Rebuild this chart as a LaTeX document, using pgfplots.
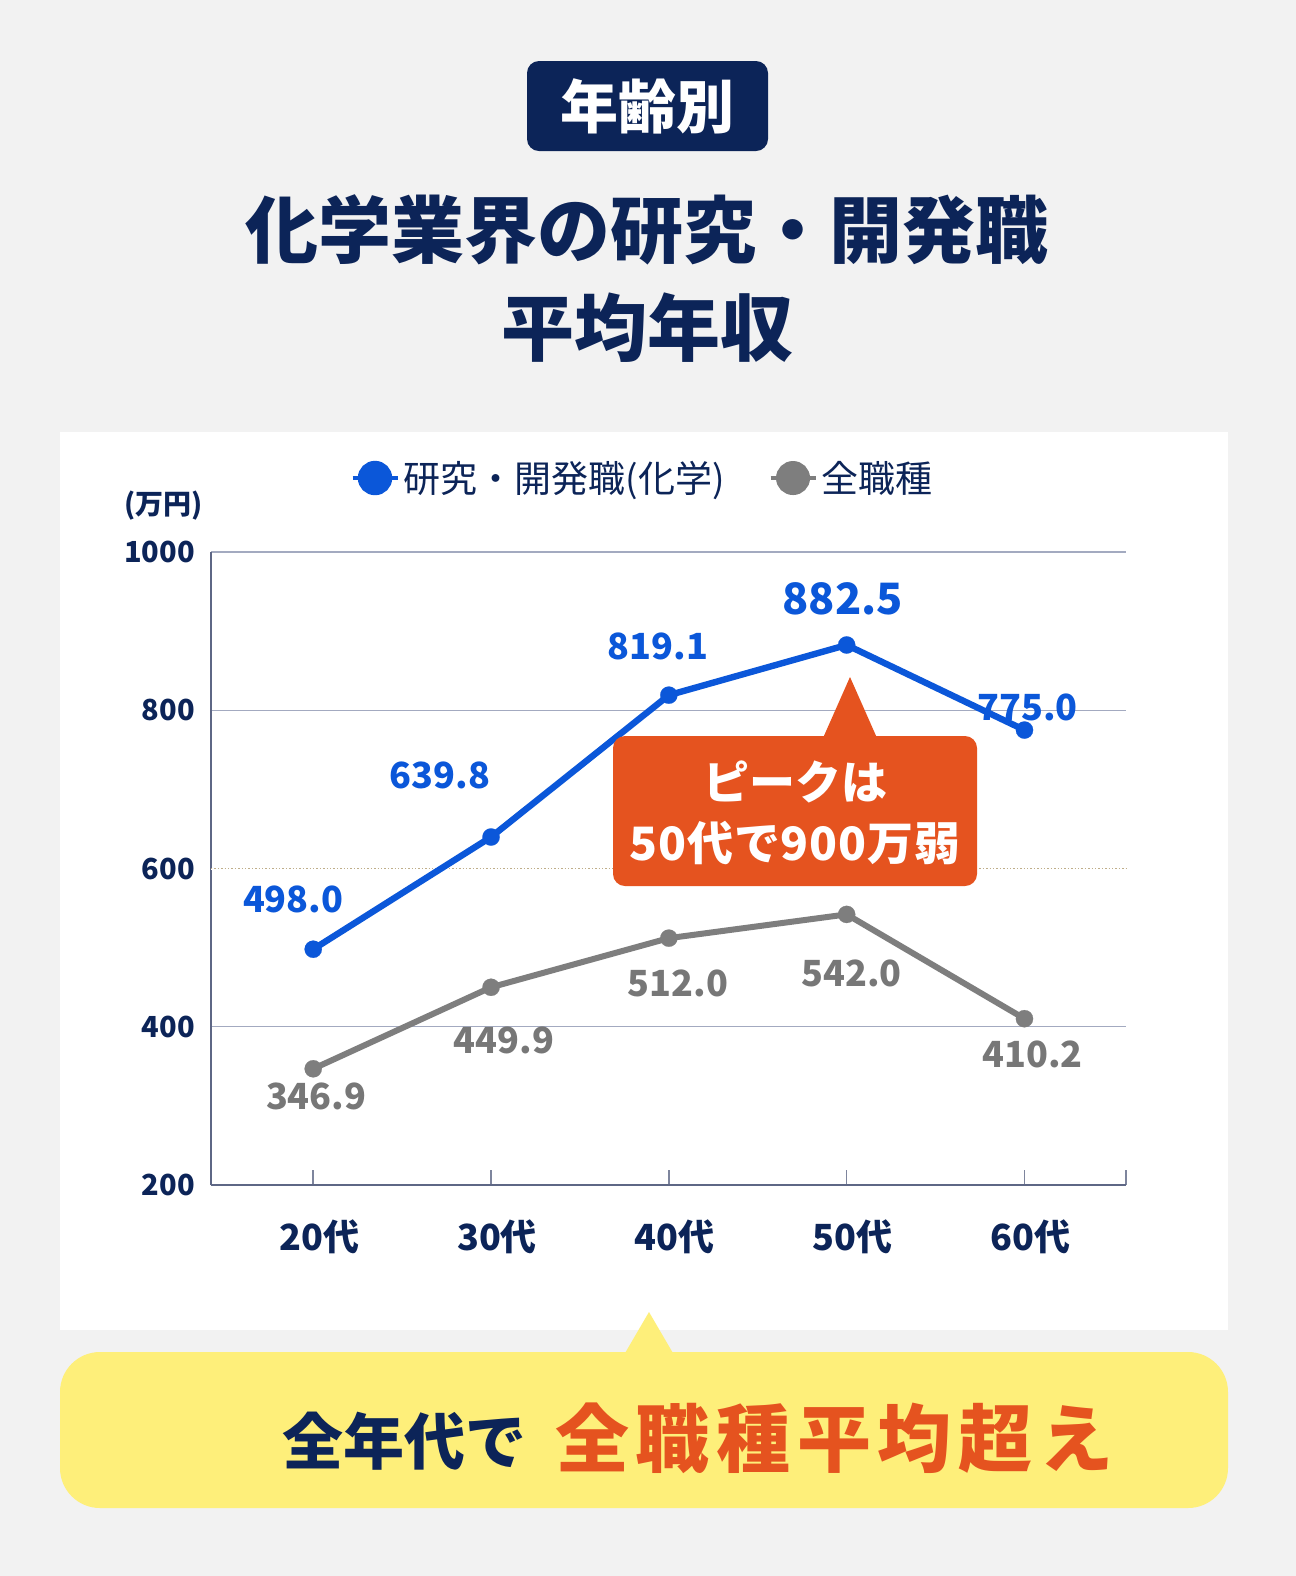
\documentclass[border=0pt]{standalone}
\usepackage{fontspec}
\usepackage{pgfplots}
\usepackage{pgfplotstable}
\pgfplotsset{compat=1.18}
\setmainfont{Noto Sans CJK JP}
\newcommand{\fsz}[1]{\fontsize{#1}{#1}\selectfont}

\definecolor{bgc}{HTML}{F2F2F2}
\definecolor{navy}{HTML}{0C2458}
\definecolor{lineblue}{HTML}{0B57D9}
\definecolor{linegray}{HTML}{7E7E7E}
\definecolor{labgray}{HTML}{777777}
\definecolor{callout}{HTML}{E5531F}
\definecolor{hilite}{HTML}{FEEF7A}
\definecolor{axisc}{HTML}{5E6785}
\definecolor{gridc}{HTML}{A3AAC0}
\definecolor{tanc}{HTML}{BFAE8A}

% label offsets (ox, oy in pt) and label scale per point
\pgfplotstableread{
x y lab ox oy sc
0 498.0 498.0 -10 25 1
1 639.8 639.8 -25.5 31 1
2 819.1 819.1 -5.5 24.5 1
3 882.5 882.5 -2 23 1.2
4 775.0 775.0 1.5 11.5 1
}\chem
\pgfplotstableread{
x y lab ox oy sc
0 346.9 346.9 1.5 -14 1
1 449.9 449.9 6.5 -26.5 1
2 512.0 512.0 4.5 -22.5 1
3 542.0 542.0 2.5 -29.3 1
4 410.2 410.2 4 -17.7 1
}\alljobs

\begin{document}
\begin{tikzpicture}
% page, panel and titles (pixel units)
\begin{scope}[x=0.5pt,y=-0.5pt]
\fill[bgc] (0,0) rectangle (1296,1576);
\fill[white] (60,432) rectangle (1228,1330);
\fill[navy, rounded corners=6pt] (527,61) rectangle (768,151);
\node[text=white, font=\bfseries\fsz{29}] at (647.5,106) {年齢別};
\node[text=navy, font=\bfseries\fsz{36.5}] at (647,230) {化学業界の研究・開発職};
\node[text=navy, font=\bfseries\fsz{36.5}] at (647,328) {平均年収};
\node[text=navy, font=\bfseries\fsz{14}, anchor=west] at (117,506) {(万円)};
\end{scope}

\begin{axis}[
  at={(105.5pt,-592.5pt)}, anchor=south west,
  width=457.5pt, height=316.5pt, scale only axis,
  xmin=-0.575, xmax=4.571, ymin=200, ymax=1000,
  axis x line*=bottom, axis y line*=left,
  axis line style={axisc, line width=0.8pt},
  xtick={0,1,2,3,4,4.571}, xticklabels={20代,30代,40代,50代,60代,},
  ytick={200,400,600,800,1000},
  ymajorgrids, major grid style={gridc, line width=0.6pt},
  tick align=inside, major tick length=7.5pt,
  x tick style={axisc!80, line width=0.8pt},
  y tick style={draw=none},
  xticklabel style={font=\bfseries\fsz{18}, text=navy, anchor=base, yshift=-32.5pt, xshift=3pt},
  yticklabel style={font=\bfseries\fsz{14.5}, text=navy, xshift=-4.5pt},
  /pgf/number format/assume math mode=true,
  /pgf/number format/1000 sep={},
  clip=false,
  legend columns=-1,
  legend style={at={(0.4727,1.1169)}, anchor=center, draw=none, fill=none,
    font=\fsz{18.5}, text=navy,
    /tikz/every even column/.append style={column sep=20pt}},
  legend image code/.code={
    \draw[#1, line width=2pt] (0pt,0pt) -- (22.5pt,0pt);
    \fill[#1] (11.25pt,0pt) circle (7pt);},
]
% 600 line is dotted in the original
\draw[white, line width=1pt] (axis cs:-0.575,600) -- (axis cs:4.571,600);
\draw[tanc, densely dotted, line width=0.7pt] (axis cs:-0.575,600) -- (axis cs:4.571,600);
\addplot[color=lineblue, line width=3.2pt, mark=*, mark size=4.3pt,
  mark options={line width=0.1pt},
  nodes near coords, point meta=explicit symbolic,
  visualization depends on={\thisrow{ox} \as \offx},
  visualization depends on={\thisrow{oy} \as \offy},
  visualization depends on={\thisrow{sc} \as \labsc},
  every node near coord/.append style={anchor=center, xshift=\offx pt, yshift=\offy pt,
    scale=\labsc, text=lineblue, font=\bfseries\fsz{18}}]
  table[x=x, y=y, meta=lab] {\chem};
\addlegendentry{研究・開発職(化学)}
\addplot[color=linegray, line width=3pt, mark=*, mark size=4.3pt,
  mark options={line width=0.1pt},
  nodes near coords, point meta=explicit symbolic,
  visualization depends on={\thisrow{ox} \as \offx},
  visualization depends on={\thisrow{oy} \as \offy},
  visualization depends on={\thisrow{sc} \as \labsc},
  every node near coord/.append style={anchor=center, xshift=\offx pt, yshift=\offy pt,
    scale=\labsc, text=labgray, font=\bfseries\fsz{18}}]
  table[x=x, y=y, meta=lab] {\alljobs};
\addlegendentry{全職種}
\end{axis}

% callouts
\begin{scope}[x=0.5pt,y=-0.5pt]
\fill[callout, rounded corners=6pt] (613,736) rectangle (977,886);
\fill[callout] (823,738) -- (850,677) -- (877,738) -- cycle;
\node[text=white, font=\bfseries\fsz{23}] at (795,782) {ピークは};
\node[text=white, font=\bfseries\fsz{23}\addfontfeature{LetterSpace=2}] at (795,843) {50代で900万弱};
\fill[hilite, rounded corners=20pt] (60,1352) rectangle (1228,1508);
\fill[hilite] (621,1360) -- (649,1312) -- (677,1360) -- cycle;
\node[anchor=base west, text=navy, font=\bfseries\fsz{30.5}, inner sep=0pt] at (282,1464) {全年代で};
\node[anchor=base west, text=callout, font=\bfseries\fsz{37}\addfontfeature{LetterSpace=9}, inner sep=0pt] at (555,1466) {全職種平均超え};
\end{scope}
\end{tikzpicture}
\end{document}
